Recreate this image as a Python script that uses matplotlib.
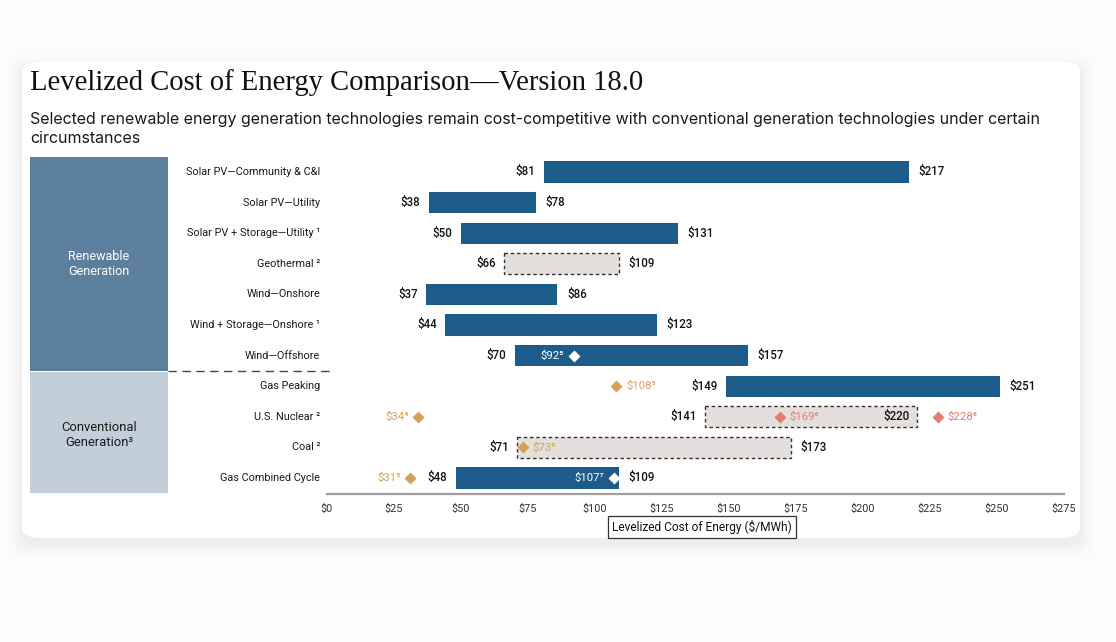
import matplotlib
matplotlib.use("Agg")
import matplotlib.pyplot as plt
from matplotlib.patches import Rectangle, FancyBboxPatch
from matplotlib.transforms import blended_transform_factory

plt.rcParams['text.parse_math'] = False
plt.rcParams['font.family'] = ['Roboto', 'DejaVu Sans']

# ---------------- data ----------------
categories = ["Solar PV\u2014Community & C&I", "Solar PV\u2014Utility",
              "Solar PV + Storage\u2014Utility \u00b9", "Geothermal \u00b2",
              "Wind\u2014Onshore", "Wind + Storage\u2014Onshore \u00b9",
              "Wind\u2014Offshore", "Gas Peaking", "U.S. Nuclear \u00b2",
              "Coal \u00b2", "Gas Combined Cycle"]
low_values = [81, 38, 50, 66, 37, 44, 70, 149, 141, 71, 48]
high_values = [217, 78, 131, 109, 86, 123, 157, 251, 220, 173, 109]
dashed_rows = ["Geothermal \u00b2", "U.S. Nuclear \u00b2", "Coal \u00b2"]

# markers: (category, value, label, colour key, text side)
marker_cats = ["Wind\u2014Offshore", "Gas Peaking", "U.S. Nuclear \u00b2", "U.S. Nuclear \u00b2",
               "U.S. Nuclear \u00b2", "Coal \u00b2", "Gas Combined Cycle", "Gas Combined Cycle"]
marker_values = [92, 108, 34, 169, 228, 73, 31, 107]
marker_labels = ["$92\u2075", "$108\u2075", "$34\u2074", "$169\u2076", "$228\u2076",
                 "$73\u2075", "$31\u2075", "$107\u2077"]
marker_colors = ["white", "gold", "gold", "red", "red", "gold", "gold", "white"]
marker_sides = ["left", "right", "left", "right", "right", "right", "left", "left"]

x_ticks = [0, 25, 50, 75, 100, 125, 150, 175, 200, 225, 250, 275]
groups = ["Renewable\nGeneration", "Conventional\nGeneration\u00b3"]
group_sizes = [7, 4]

title = "Levelized Cost of Energy Comparison\u2014Version 18.0"
subtitle = ("Selected renewable energy generation technologies remain cost-competitive with "
            "conventional generation technologies under certain\ncircumstances")
xlabel = "Levelized Cost of Energy ($/MWh)"

# ---------------- style ----------------
BAR = "#1d5c8a"
GREY_FILL = "#e4dfdc"
COLS = {"white": "white", "gold": "#d4a15c", "red": "#e47d6b"}
W, H = 1116, 642

fig = plt.figure(figsize=(W / 100, H / 100), dpi=100, facecolor="#fcfcfc")

def fx(px):
    return px / W

def fy(py):
    return (H - py) / H

# card with soft shadow (offset downward)
for grow, a in [(14, 0.006), (10, 0.008), (7, 0.010), (4, 0.012), (2, 0.014)]:
    sh = FancyBboxPatch((fx(22 - grow), fy(544 + grow)), fx(1058 + 2 * grow), (476 + 2 * grow) / H,
                        boxstyle="round,pad=0,rounding_size=0.016", transform=fig.transFigure,
                        facecolor="black", edgecolor="none", alpha=a, zorder=0)
    fig.patches.append(sh)
card = FancyBboxPatch((fx(22), fy(538)), fx(1058), 476 / H,
                      boxstyle="round,pad=0,rounding_size=0.016", transform=fig.transFigure,
                      facecolor="white", edgecolor="none", zorder=0.5)
fig.patches.append(card)

fig.text(fx(30), fy(82.5), title, family=["Liberation Serif", "DejaVu Serif"], fontsize=20.6,
         color="#111111", va="center", ha="left", zorder=3)
fig.text(fx(30), fy(129), subtitle, family=["Inter", "DejaVu Sans"], fontsize=11.5,
         color="#1a1a1a", va="center", ha="left", linespacing=1.3, zorder=3)

n = len(categories)
row_px = 30.6
top_px = 172 - 0.5 * row_px
bottom_px = 494
ax = fig.add_axes([fx(327), fy(bottom_px), fx(1064) - fx(327), (bottom_px - top_px) / H])
ax.set_zorder(2)
ax.set_xlim(0, 275)
ax.set_ylim((bottom_px - 172) / row_px, -0.5)
ax.patch.set_alpha(0)
for s in ["top", "right", "left"]:
    ax.spines[s].set_visible(False)
ax.spines["bottom"].set_color("#a0a0a0")
ax.spines["bottom"].set_linewidth(1.6)
ax.set_yticks([])
ax.set_xticks(x_ticks)
ax.set_xticklabels([f"${v}" for v in x_ticks], fontsize=7.8, color="#333333")
ax.tick_params(axis="x", length=0, pad=7)

bh = 0.69
VFS = 8.3
for i, (cat, lo, hi) in enumerate(zip(categories, low_values, high_values)):
    dashed = cat in dashed_rows
    if dashed:
        r = Rectangle((lo, i - bh / 2), hi - lo, bh, facecolor=GREY_FILL, edgecolor="#333333",
                      linestyle=(0, (2.5, 2)), linewidth=1.0, zorder=2)
    else:
        r = Rectangle((lo, i - bh / 2), hi - lo, bh, facecolor=BAR, edgecolor="none", zorder=2)
    ax.add_patch(r)
    ax.annotate(f"${lo}", (lo, i), xytext=(-6, 0), textcoords="offset points", ha="right",
                va="center", fontsize=VFS, fontweight="medium", color="#111111", zorder=4)
    if cat == "U.S. Nuclear \u00b2":
        ax.annotate(f"${hi}", (hi, i), xytext=(-5, 0), textcoords="offset points", ha="right",
                    va="center", fontsize=VFS, fontweight="medium", color="#111111", zorder=4)
    else:
        ax.annotate(f"${hi}", (hi, i), xytext=(7, 0), textcoords="offset points", ha="left",
                    va="center", fontsize=VFS, fontweight="medium", color="#111111", zorder=4)

for cat, v, lab, ck, side in zip(marker_cats, marker_values, marker_labels, marker_colors, marker_sides):
    i = categories.index(cat)
    c = COLS[ck]
    ax.plot([v], [i], marker="D", markersize=6.5, color=c, markeredgecolor="none", zorder=5)
    off = -7 if side == "left" else 7
    ax.annotate(lab, (v, i), xytext=(off, 0), textcoords="offset points",
                ha="right" if side == "left" else "left", va="center", fontsize=8.2,
                color=c, zorder=5)

# category labels & group panels (x in figure, y in data)
tr = blended_transform_factory(fig.transFigure, ax.transData)
for i, cat in enumerate(categories):
    ax.text(fx(320), i, cat, transform=tr, ha="right", va="center", fontsize=7.8,
            color="#1a1a1a", clip_on=False)

panel_cols = ["#5b7f9c", "#c2cfdb"]
panel_txt = ["white", "#1a1a1a"]
panel_fs = [9.0, 9.4]
panel_text_rows = [3.0, 8.6]
start = -0.5
for g, size, pc, tc, fs, ty in zip(groups, group_sizes, panel_cols, panel_txt, panel_fs, panel_text_rows):
    y0 = start + (0.05 if start > 0 else 0)
    end = start + size
    if end > n - 0.5:
        end = (bottom_px - 172) / row_px
    rect = Rectangle((fx(30), y0), fx(168) - fx(30), end - y0, transform=tr,
                     facecolor=pc, edgecolor="none", clip_on=False, zorder=1)
    ax.add_patch(rect)
    ax.text(fx(99), ty, g, transform=tr,
            ha="center", va="center", fontsize=fs, color=tc, linespacing=1.15, clip_on=False)
    start += size

# dashed separator between groups
ax.plot([fx(168), fx(330)], [6.5, 6.5], transform=tr, color="#444444", lw=1.0,
        linestyle=(0, (6, 4)), clip_on=False, zorder=3)

fig.text(fx(702), fy(527), xlabel, ha="center", va="center", fontsize=8.6, color="#111111", zorder=3,
         bbox=dict(boxstyle="square,pad=0.32", facecolor="white", edgecolor="#333333", linewidth=0.9))

fig.savefig("out.png", dpi=100, facecolor=fig.get_facecolor())
